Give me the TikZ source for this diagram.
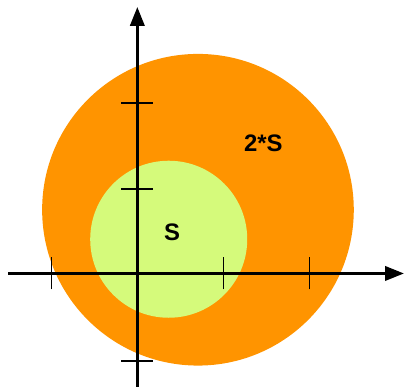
\documentclass[tikz,border=0pt]{standalone}
\usepackage{fontspec}
\setmainfont{Liberation Sans}
\usetikzlibrary{calc, arrows.meta, positioning}

\definecolor{bigorange}{RGB}{255,148,0}
\definecolor{smallgreen}{RGB}{213,250,123}

\begin{document}
\begin{tikzpicture}[
    axis/.style={-{Triangle[length=0.22cm, width=0.165cm]}, line width=1pt, black},
    tick/.style={line width=0.5pt, black},
    area/.style={font=\fontsize{7.9}{9}\selectfont\bfseries},
]

% Fix the page to the picture's margins
\useasboundingbox (-1.597,-1.320) rectangle (3.101,3.180);

% Scaled region 2*S (orange) and region S (green)
\fill[bigorange] (0.705,0.741) circle (1.812);
\fill[smallgreen] (0.365,0.398) circle (0.913);

% Labels
\node[area] (big) at (1.465,1.517) {2*S};
\node[area] (small) at (0.404,0.483) {S};

% Axes
\coordinate (xstart) at (-1.503,0);
\coordinate (xend) at (3.101,0);
\coordinate (ystart) at (0,-1.320);
\coordinate (yend) at (0,3.099);
\draw[axis] (xstart) -- (xend);
\draw[axis] (ystart) -- (yend);

% Ticks
\foreach \x in {-1,1,2}
    \draw[tick] (\x,-0.186) -- (\x,0.186);
\foreach \y in {-1.02,0.98,1.98}
    \draw[tick] (-0.186,\y) -- (0.186,\y);

\end{tikzpicture}
\end{document}
